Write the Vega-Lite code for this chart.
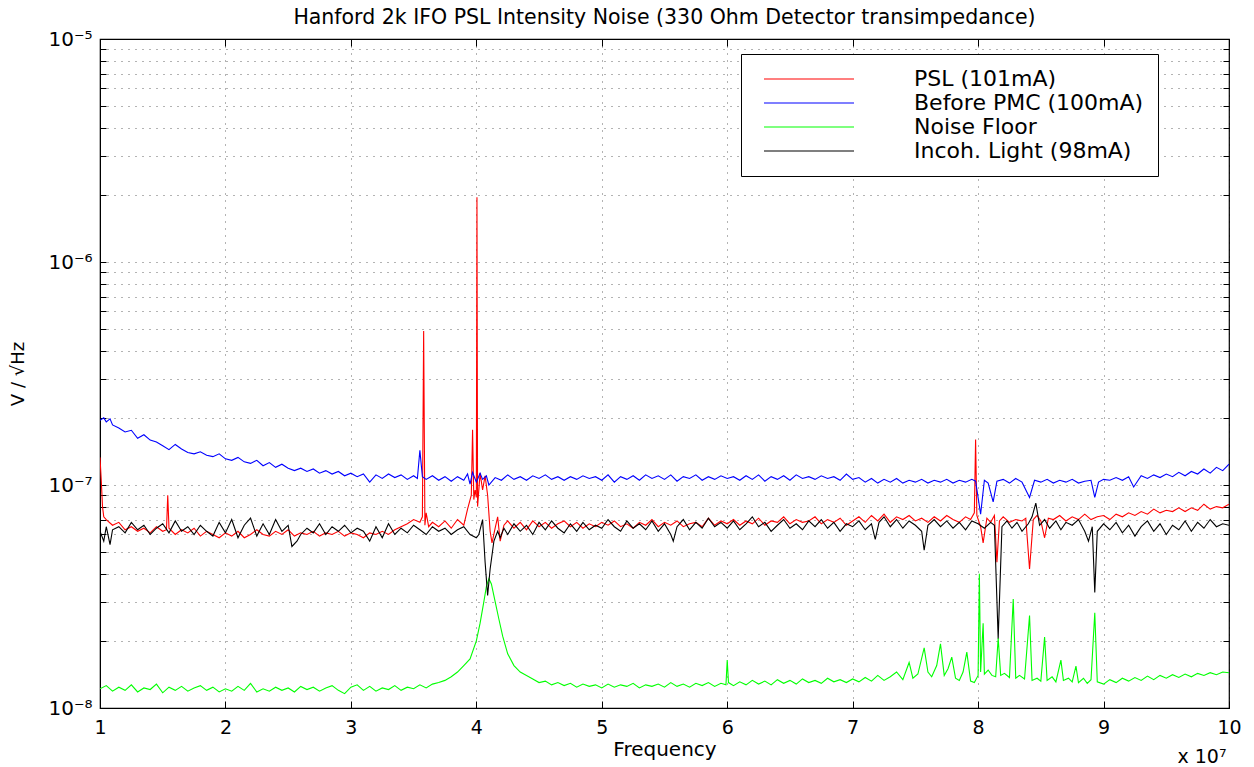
{
"$schema":"https://vega.github.io/schema/vega-lite/v6.json",
"autosize":{"type":"none"},
"width":1129,"height":669,
"padding":{"left":100,"top":39,"right":25,"bottom":59},
"background":"white",
"title":{"text":"Hanford 2k IFO PSL Intensity Noise (330 Ohm Detector transimpedance)","fontSize":20.5,"font":"DejaVu Sans","fontWeight":"normal","anchor":"middle","offset":1,"color":"black"},
"datasets":{
"psl":[{"f":1e7,"v":1.33e-7},{"f":1.01e7,"v":1.05e-7},{"f":1.02e7,"v":8.0e-8},{"f":1.03e7,"v":7.2e-8},{"f":1.05e7,"v":7.0e-8},{"f":1.1e7,"v":6.6e-8},{"f":1.15e7,"v":6.8e-8},{"f":1.2e7,"v":6.3e-8},{"f":1.25e7,"v":6.5e-8},{"f":1.3e7,"v":6.2e-8},{"f":1.35e7,"v":6.4e-8},{"f":1.4e7,"v":6.1e-8},{"f":1.45e7,"v":6.5e-8},{"f":1.5e7,"v":6.2e-8},{"f":1.53e7,"v":6.3e-8},{"f":1.54e7,"v":9.0e-8},{"f":1.55e7,"v":6.4e-8},{"f":1.6e7,"v":6.0e-8},{"f":1.65e7,"v":6.3e-8},{"f":1.7e7,"v":6.1e-8},{"f":1.75e7,"v":6.4e-8},{"f":1.8e7,"v":5.9e-8},{"f":1.85e7,"v":6.2e-8},{"f":1.9e7,"v":6.0e-8},{"f":1.95e7,"v":5.8e-8},{"f":2e7,"v":6.1e-8},{"f":2.05e7,"v":5.9e-8},{"f":2.1e7,"v":6.2e-8},{"f":2.15e7,"v":5.8e-8},{"f":2.2e7,"v":6.0e-8},{"f":2.25e7,"v":6.3e-8},{"f":2.3e7,"v":6.0e-8},{"f":2.35e7,"v":5.9e-8},{"f":2.4e7,"v":6.2e-8},{"f":2.45e7,"v":6.0e-8},{"f":2.5e7,"v":6.3e-8},{"f":2.55e7,"v":5.9e-8},{"f":2.6e7,"v":6.1e-8},{"f":2.65e7,"v":6.0e-8},{"f":2.7e7,"v":6.2e-8},{"f":2.75e7,"v":5.9e-8},{"f":2.8e7,"v":6.1e-8},{"f":2.85e7,"v":6.0e-8},{"f":2.9e7,"v":6.2e-8},{"f":2.95e7,"v":5.9e-8},{"f":3e7,"v":6.1e-8},{"f":3.05e7,"v":6.0e-8},{"f":3.1e7,"v":5.8e-8},{"f":3.15e7,"v":6.1e-8},{"f":3.2e7,"v":6.0e-8},{"f":3.25e7,"v":6.2e-8},{"f":3.3e7,"v":6.0e-8},{"f":3.35e7,"v":6.3e-8},{"f":3.4e7,"v":6.5e-8},{"f":3.45e7,"v":6.7e-8},{"f":3.5e7,"v":7.0e-8},{"f":3.55e7,"v":6.8e-8},{"f":3.57e7,"v":7.2e-8},{"f":3.58e7,"v":4.9e-7},{"f":3.59e7,"v":6.6e-8},{"f":3.6e7,"v":7.5e-8},{"f":3.62e7,"v":6.5e-8},{"f":3.65e7,"v":6.8e-8},{"f":3.7e7,"v":6.5e-8},{"f":3.75e7,"v":6.9e-8},{"f":3.8e7,"v":6.4e-8},{"f":3.85e7,"v":7.0e-8},{"f":3.9e7,"v":6.6e-8},{"f":3.93e7,"v":7.8e-8},{"f":3.96e7,"v":9.0e-8},{"f":3.97e7,"v":1.77e-7},{"f":3.98e7,"v":8.6e-8},{"f":3.99e7,"v":9.5e-8},{"f":4.0e7,"v":8.8e-8},{"f":4.005e7,"v":1.95e-6},{"f":4.01e7,"v":8.0e-8},{"f":4.03e7,"v":1.13e-7},{"f":4.05e7,"v":9.5e-8},{"f":4.07e7,"v":1.1e-7},{"f":4.09e7,"v":9.0e-8},{"f":4.11e7,"v":6.2e-8},{"f":4.125e7,"v":5.5e-8},{"f":4.15e7,"v":6.4e-8},{"f":4.17e7,"v":7.2e-8},{"f":4.19e7,"v":5.6e-8},{"f":4.22e7,"v":6.6e-8},{"f":4.25e7,"v":6.9e-8},{"f":4.3e7,"v":6.4e-8},{"f":4.35e7,"v":6.8e-8},{"f":4.4e7,"v":6.3e-8},{"f":4.45e7,"v":6.9e-8},{"f":4.5e7,"v":6.5e-8},{"f":4.55e7,"v":6.8e-8},{"f":4.6e7,"v":6.4e-8},{"f":4.65e7,"v":6.7e-8},{"f":4.7e7,"v":6.9e-8},{"f":4.75e7,"v":6.5e-8},{"f":4.8e7,"v":6.8e-8},{"f":4.85e7,"v":6.4e-8},{"f":4.9e7,"v":6.7e-8},{"f":4.95e7,"v":6.5e-8},{"f":5e7,"v":6.8e-8},{"f":5.05e7,"v":6.6e-8},{"f":5.1e7,"v":6.9e-8},{"f":5.15e7,"v":6.5e-8},{"f":5.2e7,"v":6.7e-8},{"f":5.25e7,"v":6.4e-8},{"f":5.3e7,"v":6.8e-8},{"f":5.35e7,"v":6.6e-8},{"f":5.4e7,"v":7.0e-8},{"f":5.45e7,"v":6.5e-8},{"f":5.5e7,"v":6.8e-8},{"f":5.55e7,"v":6.6e-8},{"f":5.6e7,"v":6.9e-8},{"f":5.65e7,"v":6.5e-8},{"f":5.7e7,"v":6.7e-8},{"f":5.75e7,"v":6.8e-8},{"f":5.8e7,"v":6.5e-8},{"f":5.85e7,"v":7.1e-8},{"f":5.9e7,"v":6.6e-8},{"f":5.95e7,"v":6.9e-8},{"f":6e7,"v":6.7e-8},{"f":6.05e7,"v":7.0e-8},{"f":6.1e7,"v":6.6e-8},{"f":6.15e7,"v":6.9e-8},{"f":6.2e7,"v":6.7e-8},{"f":6.25e7,"v":7.1e-8},{"f":6.3e7,"v":6.6e-8},{"f":6.35e7,"v":6.9e-8},{"f":6.4e7,"v":6.8e-8},{"f":6.45e7,"v":7.2e-8},{"f":6.5e7,"v":6.7e-8},{"f":6.55e7,"v":7.0e-8},{"f":6.6e7,"v":6.8e-8},{"f":6.65e7,"v":6.9e-8},{"f":6.7e7,"v":7.2e-8},{"f":6.75e7,"v":6.7e-8},{"f":6.8e7,"v":7.0e-8},{"f":6.85e7,"v":6.8e-8},{"f":6.9e7,"v":7.1e-8},{"f":6.95e7,"v":6.6e-8},{"f":7e7,"v":6.9e-8},{"f":7.05e7,"v":7.2e-8},{"f":7.1e7,"v":6.8e-8},{"f":7.15e7,"v":7.3e-8},{"f":7.2e7,"v":6.9e-8},{"f":7.25e7,"v":7.4e-8},{"f":7.3e7,"v":6.8e-8},{"f":7.35e7,"v":7.2e-8},{"f":7.4e7,"v":7.0e-8},{"f":7.45e7,"v":7.3e-8},{"f":7.5e7,"v":6.9e-8},{"f":7.55e7,"v":7.1e-8},{"f":7.6e7,"v":6.8e-8},{"f":7.65e7,"v":7.2e-8},{"f":7.7e7,"v":6.9e-8},{"f":7.75e7,"v":7.3e-8},{"f":7.8e7,"v":7.0e-8},{"f":7.85e7,"v":6.8e-8},{"f":7.9e7,"v":7.2e-8},{"f":7.94e7,"v":7.0e-8},{"f":7.97e7,"v":7.5e-8},{"f":7.98e7,"v":1.6e-7},{"f":7.99e7,"v":7.3e-8},{"f":8.02e7,"v":6.5e-8},{"f":8.04e7,"v":5.5e-8},{"f":8.07e7,"v":7.1e-8},{"f":8.1e7,"v":6.8e-8},{"f":8.13e7,"v":7.3e-8},{"f":8.15e7,"v":4.5e-8},{"f":8.17e7,"v":6.9e-8},{"f":8.2e7,"v":7.2e-8},{"f":8.25e7,"v":6.8e-8},{"f":8.3e7,"v":7.0e-8},{"f":8.35e7,"v":6.9e-8},{"f":8.38e7,"v":7.1e-8},{"f":8.41e7,"v":4.2e-8},{"f":8.44e7,"v":7.0e-8},{"f":8.47e7,"v":7.3e-8},{"f":8.5e7,"v":6.9e-8},{"f":8.53e7,"v":5.8e-8},{"f":8.56e7,"v":7.1e-8},{"f":8.6e7,"v":7.0e-8},{"f":8.65e7,"v":7.3e-8},{"f":8.7e7,"v":6.9e-8},{"f":8.75e7,"v":7.2e-8},{"f":8.8e7,"v":7.0e-8},{"f":8.85e7,"v":7.4e-8},{"f":8.9e7,"v":7.0e-8},{"f":8.95e7,"v":7.2e-8},{"f":9e7,"v":7.3e-8},{"f":9.05e7,"v":7.0e-8},{"f":9.1e7,"v":7.4e-8},{"f":9.15e7,"v":7.2e-8},{"f":9.2e7,"v":7.5e-8},{"f":9.25e7,"v":7.3e-8},{"f":9.3e7,"v":7.6e-8},{"f":9.35e7,"v":7.4e-8},{"f":9.4e7,"v":7.8e-8},{"f":9.45e7,"v":7.5e-8},{"f":9.5e7,"v":7.7e-8},{"f":9.55e7,"v":7.6e-8},{"f":9.6e7,"v":7.9e-8},{"f":9.65e7,"v":7.6e-8},{"f":9.7e7,"v":7.9e-8},{"f":9.75e7,"v":7.7e-8},{"f":9.8e7,"v":8.2e-8},{"f":9.85e7,"v":7.8e-8},{"f":9.9e7,"v":8.0e-8},{"f":9.95e7,"v":7.9e-8},{"f":1e8,"v":8.2e-8}],
"pmc":[{"f":1e7,"v":1.95e-7},{"f":1.03e7,"v":2.0e-7},{"f":1.05e7,"v":1.92e-7},{"f":1.08e7,"v":1.98e-7},{"f":1.1e7,"v":1.86e-7},{"f":1.15e7,"v":1.8e-7},{"f":1.2e7,"v":1.73e-7},{"f":1.25e7,"v":1.76e-7},{"f":1.3e7,"v":1.62e-7},{"f":1.35e7,"v":1.68e-7},{"f":1.4e7,"v":1.59e-7},{"f":1.45e7,"v":1.56e-7},{"f":1.5e7,"v":1.5e-7},{"f":1.55e7,"v":1.44e-7},{"f":1.6e7,"v":1.52e-7},{"f":1.65e7,"v":1.45e-7},{"f":1.7e7,"v":1.4e-7},{"f":1.75e7,"v":1.38e-7},{"f":1.8e7,"v":1.41e-7},{"f":1.85e7,"v":1.36e-7},{"f":1.9e7,"v":1.34e-7},{"f":1.95e7,"v":1.38e-7},{"f":2e7,"v":1.31e-7},{"f":2.05e7,"v":1.29e-7},{"f":2.1e7,"v":1.33e-7},{"f":2.15e7,"v":1.27e-7},{"f":2.2e7,"v":1.25e-7},{"f":2.25e7,"v":1.29e-7},{"f":2.3e7,"v":1.22e-7},{"f":2.35e7,"v":1.26e-7},{"f":2.4e7,"v":1.2e-7},{"f":2.45e7,"v":1.24e-7},{"f":2.5e7,"v":1.19e-7},{"f":2.55e7,"v":1.16e-7},{"f":2.6e7,"v":1.19e-7},{"f":2.65e7,"v":1.15e-7},{"f":2.7e7,"v":1.18e-7},{"f":2.75e7,"v":1.13e-7},{"f":2.8e7,"v":1.16e-7},{"f":2.85e7,"v":1.12e-7},{"f":2.9e7,"v":1.15e-7},{"f":2.95e7,"v":1.1e-7},{"f":3e7,"v":1.13e-7},{"f":3.05e7,"v":1.09e-7},{"f":3.1e7,"v":1.12e-7},{"f":3.15e7,"v":1.03e-7},{"f":3.2e7,"v":1.11e-7},{"f":3.25e7,"v":1.07e-7},{"f":3.3e7,"v":1.12e-7},{"f":3.35e7,"v":1.08e-7},{"f":3.4e7,"v":1.11e-7},{"f":3.45e7,"v":1.06e-7},{"f":3.5e7,"v":1.1e-7},{"f":3.53e7,"v":1.07e-7},{"f":3.55e7,"v":1.43e-7},{"f":3.57e7,"v":1.09e-7},{"f":3.6e7,"v":1.06e-7},{"f":3.65e7,"v":1.1e-7},{"f":3.7e7,"v":1.05e-7},{"f":3.75e7,"v":1.09e-7},{"f":3.8e7,"v":1.04e-7},{"f":3.85e7,"v":1.09e-7},{"f":3.9e7,"v":1.05e-7},{"f":3.93e7,"v":1.12e-7},{"f":3.95e7,"v":1.01e-7},{"f":3.97e7,"v":1.14e-7},{"f":4e7,"v":1.03e-7},{"f":4.03e7,"v":1.13e-7},{"f":4.05e7,"v":1.06e-7},{"f":4.08e7,"v":1.1e-7},{"f":4.1e7,"v":1.0e-7},{"f":4.15e7,"v":1.08e-7},{"f":4.2e7,"v":1.05e-7},{"f":4.25e7,"v":1.11e-7},{"f":4.3e7,"v":1.06e-7},{"f":4.35e7,"v":1.09e-7},{"f":4.4e7,"v":1.05e-7},{"f":4.45e7,"v":1.1e-7},{"f":4.5e7,"v":1.07e-7},{"f":4.55e7,"v":1.11e-7},{"f":4.6e7,"v":1.06e-7},{"f":4.65e7,"v":1.09e-7},{"f":4.7e7,"v":1.05e-7},{"f":4.75e7,"v":1.09e-7},{"f":4.8e7,"v":1.06e-7},{"f":4.85e7,"v":1.1e-7},{"f":4.9e7,"v":1.07e-7},{"f":4.95e7,"v":1.09e-7},{"f":5e7,"v":1.05e-7},{"f":5.05e7,"v":1.11e-7},{"f":5.1e7,"v":1.03e-7},{"f":5.15e7,"v":1.09e-7},{"f":5.2e7,"v":1.06e-7},{"f":5.25e7,"v":1.1e-7},{"f":5.3e7,"v":1.05e-7},{"f":5.35e7,"v":1.11e-7},{"f":5.4e7,"v":1.07e-7},{"f":5.45e7,"v":1.1e-7},{"f":5.5e7,"v":1.06e-7},{"f":5.55e7,"v":1.11e-7},{"f":5.6e7,"v":1.04e-7},{"f":5.65e7,"v":1.09e-7},{"f":5.7e7,"v":1.07e-7},{"f":5.75e7,"v":1.11e-7},{"f":5.8e7,"v":1.05e-7},{"f":5.85e7,"v":1.09e-7},{"f":5.9e7,"v":1.06e-7},{"f":5.95e7,"v":1.1e-7},{"f":6e7,"v":1.07e-7},{"f":6.05e7,"v":1.09e-7},{"f":6.1e7,"v":1.05e-7},{"f":6.15e7,"v":1.1e-7},{"f":6.2e7,"v":1.06e-7},{"f":6.25e7,"v":1.11e-7},{"f":6.3e7,"v":1.04e-7},{"f":6.35e7,"v":1.09e-7},{"f":6.4e7,"v":1.06e-7},{"f":6.45e7,"v":1.1e-7},{"f":6.5e7,"v":1.05e-7},{"f":6.55e7,"v":1.11e-7},{"f":6.6e7,"v":1.07e-7},{"f":6.65e7,"v":1.09e-7},{"f":6.7e7,"v":1.06e-7},{"f":6.75e7,"v":1.1e-7},{"f":6.8e7,"v":1.07e-7},{"f":6.85e7,"v":1.09e-7},{"f":6.9e7,"v":1.05e-7},{"f":6.95e7,"v":1.12e-7},{"f":7e7,"v":1.06e-7},{"f":7.05e7,"v":1.08e-7},{"f":7.1e7,"v":1.03e-7},{"f":7.15e7,"v":1.07e-7},{"f":7.2e7,"v":1.02e-7},{"f":7.25e7,"v":1.06e-7},{"f":7.3e7,"v":1.03e-7},{"f":7.35e7,"v":1.07e-7},{"f":7.4e7,"v":1.02e-7},{"f":7.45e7,"v":1.05e-7},{"f":7.5e7,"v":1.03e-7},{"f":7.55e7,"v":1.06e-7},{"f":7.6e7,"v":1.02e-7},{"f":7.65e7,"v":1.05e-7},{"f":7.7e7,"v":1.03e-7},{"f":7.75e7,"v":1.06e-7},{"f":7.8e7,"v":1.02e-7},{"f":7.85e7,"v":1.05e-7},{"f":7.9e7,"v":1.03e-7},{"f":7.95e7,"v":1.06e-7},{"f":7.98e7,"v":1.04e-7},{"f":8.02e7,"v":7.4e-8},{"f":8.05e7,"v":1.05e-7},{"f":8.08e7,"v":1.02e-7},{"f":8.12e7,"v":8.4e-8},{"f":8.15e7,"v":1.04e-7},{"f":8.2e7,"v":1.06e-7},{"f":8.25e7,"v":1.02e-7},{"f":8.3e7,"v":1.07e-7},{"f":8.35e7,"v":1.03e-7},{"f":8.41e7,"v":8.8e-8},{"f":8.45e7,"v":1.05e-7},{"f":8.5e7,"v":1.03e-7},{"f":8.55e7,"v":1.06e-7},{"f":8.6e7,"v":1.02e-7},{"f":8.65e7,"v":1.05e-7},{"f":8.7e7,"v":1.03e-7},{"f":8.75e7,"v":1.06e-7},{"f":8.8e7,"v":1.02e-7},{"f":8.85e7,"v":1.04e-7},{"f":8.9e7,"v":1.05e-7},{"f":8.93e7,"v":8.8e-8},{"f":8.96e7,"v":1.03e-7},{"f":9e7,"v":1.06e-7},{"f":9.05e7,"v":1.05e-7},{"f":9.1e7,"v":1.08e-7},{"f":9.15e7,"v":1.05e-7},{"f":9.2e7,"v":1.09e-7},{"f":9.24e7,"v":9.8e-8},{"f":9.3e7,"v":1.1e-7},{"f":9.35e7,"v":1.07e-7},{"f":9.4e7,"v":1.11e-7},{"f":9.45e7,"v":1.08e-7},{"f":9.5e7,"v":1.12e-7},{"f":9.55e7,"v":1.09e-7},{"f":9.6e7,"v":1.14e-7},{"f":9.65e7,"v":1.1e-7},{"f":9.7e7,"v":1.15e-7},{"f":9.75e7,"v":1.12e-7},{"f":9.8e7,"v":1.18e-7},{"f":9.85e7,"v":1.13e-7},{"f":9.9e7,"v":1.2e-7},{"f":9.95e7,"v":1.16e-7},{"f":1e8,"v":1.24e-7}],
"nf":[{"f":1e7,"v":1.22e-8},{"f":1.05e7,"v":1.26e-8},{"f":1.1e7,"v":1.19e-8},{"f":1.15e7,"v":1.24e-8},{"f":1.2e7,"v":1.2e-8},{"f":1.25e7,"v":1.27e-8},{"f":1.3e7,"v":1.18e-8},{"f":1.35e7,"v":1.23e-8},{"f":1.4e7,"v":1.21e-8},{"f":1.45e7,"v":1.28e-8},{"f":1.5e7,"v":1.17e-8},{"f":1.55e7,"v":1.24e-8},{"f":1.6e7,"v":1.2e-8},{"f":1.65e7,"v":1.25e-8},{"f":1.7e7,"v":1.19e-8},{"f":1.75e7,"v":1.23e-8},{"f":1.8e7,"v":1.26e-8},{"f":1.85e7,"v":1.2e-8},{"f":1.9e7,"v":1.24e-8},{"f":1.95e7,"v":1.18e-8},{"f":2e7,"v":1.22e-8},{"f":2.05e7,"v":1.19e-8},{"f":2.1e7,"v":1.25e-8},{"f":2.15e7,"v":1.2e-8},{"f":2.2e7,"v":1.29e-8},{"f":2.25e7,"v":1.18e-8},{"f":2.3e7,"v":1.22e-8},{"f":2.35e7,"v":1.19e-8},{"f":2.4e7,"v":1.24e-8},{"f":2.45e7,"v":1.2e-8},{"f":2.5e7,"v":1.23e-8},{"f":2.55e7,"v":1.18e-8},{"f":2.6e7,"v":1.25e-8},{"f":2.65e7,"v":1.21e-8},{"f":2.7e7,"v":1.24e-8},{"f":2.75e7,"v":1.19e-8},{"f":2.8e7,"v":1.23e-8},{"f":2.85e7,"v":1.26e-8},{"f":2.9e7,"v":1.2e-8},{"f":2.95e7,"v":1.16e-8},{"f":3e7,"v":1.24e-8},{"f":3.05e7,"v":1.27e-8},{"f":3.1e7,"v":1.2e-8},{"f":3.15e7,"v":1.25e-8},{"f":3.2e7,"v":1.19e-8},{"f":3.25e7,"v":1.23e-8},{"f":3.3e7,"v":1.21e-8},{"f":3.35e7,"v":1.26e-8},{"f":3.4e7,"v":1.2e-8},{"f":3.45e7,"v":1.24e-8},{"f":3.5e7,"v":1.22e-8},{"f":3.55e7,"v":1.27e-8},{"f":3.6e7,"v":1.23e-8},{"f":3.65e7,"v":1.28e-8},{"f":3.7e7,"v":1.3e-8},{"f":3.75e7,"v":1.33e-8},{"f":3.8e7,"v":1.38e-8},{"f":3.85e7,"v":1.45e-8},{"f":3.9e7,"v":1.55e-8},{"f":3.95e7,"v":1.66e-8},{"f":4e7,"v":2.0e-8},{"f":4.03e7,"v":2.4e-8},{"f":4.06e7,"v":3.0e-8},{"f":4.08e7,"v":3.5e-8},{"f":4.1e7,"v":3.8e-8},{"f":4.12e7,"v":3.6e-8},{"f":4.15e7,"v":3.0e-8},{"f":4.18e7,"v":2.5e-8},{"f":4.21e7,"v":2.1e-8},{"f":4.25e7,"v":1.75e-8},{"f":4.3e7,"v":1.55e-8},{"f":4.35e7,"v":1.45e-8},{"f":4.4e7,"v":1.4e-8},{"f":4.45e7,"v":1.35e-8},{"f":4.5e7,"v":1.3e-8},{"f":4.55e7,"v":1.32e-8},{"f":4.6e7,"v":1.27e-8},{"f":4.65e7,"v":1.3e-8},{"f":4.7e7,"v":1.26e-8},{"f":4.75e7,"v":1.29e-8},{"f":4.8e7,"v":1.24e-8},{"f":4.85e7,"v":1.28e-8},{"f":4.9e7,"v":1.25e-8},{"f":4.95e7,"v":1.27e-8},{"f":5e7,"v":1.23e-8},{"f":5.05e7,"v":1.28e-8},{"f":5.1e7,"v":1.24e-8},{"f":5.15e7,"v":1.27e-8},{"f":5.2e7,"v":1.25e-8},{"f":5.25e7,"v":1.29e-8},{"f":5.3e7,"v":1.23e-8},{"f":5.35e7,"v":1.27e-8},{"f":5.4e7,"v":1.25e-8},{"f":5.45e7,"v":1.28e-8},{"f":5.5e7,"v":1.24e-8},{"f":5.55e7,"v":1.3e-8},{"f":5.6e7,"v":1.25e-8},{"f":5.65e7,"v":1.28e-8},{"f":5.7e7,"v":1.24e-8},{"f":5.75e7,"v":1.29e-8},{"f":5.8e7,"v":1.26e-8},{"f":5.85e7,"v":1.3e-8},{"f":5.9e7,"v":1.25e-8},{"f":5.95e7,"v":1.29e-8},{"f":5.99e7,"v":1.27e-8},{"f":6e7,"v":1.64e-8},{"f":6.01e7,"v":1.3e-8},{"f":6.05e7,"v":1.26e-8},{"f":6.1e7,"v":1.31e-8},{"f":6.15e7,"v":1.27e-8},{"f":6.2e7,"v":1.33e-8},{"f":6.25e7,"v":1.28e-8},{"f":6.3e7,"v":1.32e-8},{"f":6.35e7,"v":1.27e-8},{"f":6.4e7,"v":1.34e-8},{"f":6.45e7,"v":1.29e-8},{"f":6.5e7,"v":1.33e-8},{"f":6.55e7,"v":1.28e-8},{"f":6.6e7,"v":1.35e-8},{"f":6.65e7,"v":1.3e-8},{"f":6.7e7,"v":1.33e-8},{"f":6.75e7,"v":1.29e-8},{"f":6.8e7,"v":1.36e-8},{"f":6.85e7,"v":1.31e-8},{"f":6.9e7,"v":1.34e-8},{"f":6.95e7,"v":1.3e-8},{"f":7e7,"v":1.35e-8},{"f":7.05e7,"v":1.31e-8},{"f":7.1e7,"v":1.37e-8},{"f":7.15e7,"v":1.32e-8},{"f":7.2e7,"v":1.4e-8},{"f":7.25e7,"v":1.33e-8},{"f":7.3e7,"v":1.38e-8},{"f":7.35e7,"v":1.45e-8},{"f":7.4e7,"v":1.34e-8},{"f":7.45e7,"v":1.6e-8},{"f":7.48e7,"v":1.36e-8},{"f":7.52e7,"v":1.42e-8},{"f":7.57e7,"v":1.86e-8},{"f":7.6e7,"v":1.45e-8},{"f":7.63e7,"v":1.38e-8},{"f":7.67e7,"v":1.55e-8},{"f":7.7e7,"v":1.94e-8},{"f":7.73e7,"v":1.4e-8},{"f":7.76e7,"v":1.5e-8},{"f":7.79e7,"v":1.69e-8},{"f":7.82e7,"v":1.36e-8},{"f":7.85e7,"v":1.33e-8},{"f":7.88e7,"v":1.45e-8},{"f":7.91e7,"v":1.78e-8},{"f":7.94e7,"v":1.32e-8},{"f":7.97e7,"v":1.3e-8},{"f":8e7,"v":1.4e-8},{"f":8.01e7,"v":4.0e-8},{"f":8.02e7,"v":1.45e-8},{"f":8.04e7,"v":2.4e-8},{"f":8.05e7,"v":1.42e-8},{"f":8.08e7,"v":1.48e-8},{"f":8.11e7,"v":1.4e-8},{"f":8.14e7,"v":1.38e-8},{"f":8.16e7,"v":2.06e-8},{"f":8.18e7,"v":1.4e-8},{"f":8.21e7,"v":1.43e-8},{"f":8.25e7,"v":1.37e-8},{"f":8.28e7,"v":3.08e-8},{"f":8.3e7,"v":1.36e-8},{"f":8.33e7,"v":1.4e-8},{"f":8.37e7,"v":1.35e-8},{"f":8.41e7,"v":2.6e-8},{"f":8.43e7,"v":1.33e-8},{"f":8.47e7,"v":1.36e-8},{"f":8.5e7,"v":1.32e-8},{"f":8.53e7,"v":2.08e-8},{"f":8.55e7,"v":1.33e-8},{"f":8.59e7,"v":1.38e-8},{"f":8.62e7,"v":1.31e-8},{"f":8.66e7,"v":1.64e-8},{"f":8.68e7,"v":1.33e-8},{"f":8.72e7,"v":1.36e-8},{"f":8.75e7,"v":1.31e-8},{"f":8.78e7,"v":1.54e-8},{"f":8.8e7,"v":1.3e-8},{"f":8.84e7,"v":1.36e-8},{"f":8.87e7,"v":1.29e-8},{"f":8.9e7,"v":1.34e-8},{"f":8.93e7,"v":2.67e-8},{"f":8.95e7,"v":1.31e-8},{"f":9e7,"v":1.28e-8},{"f":9.05e7,"v":1.34e-8},{"f":9.1e7,"v":1.3e-8},{"f":9.15e7,"v":1.36e-8},{"f":9.2e7,"v":1.32e-8},{"f":9.25e7,"v":1.37e-8},{"f":9.3e7,"v":1.33e-8},{"f":9.35e7,"v":1.39e-8},{"f":9.4e7,"v":1.34e-8},{"f":9.45e7,"v":1.4e-8},{"f":9.5e7,"v":1.36e-8},{"f":9.55e7,"v":1.41e-8},{"f":9.6e7,"v":1.37e-8},{"f":9.65e7,"v":1.42e-8},{"f":9.7e7,"v":1.38e-8},{"f":9.75e7,"v":1.43e-8},{"f":9.8e7,"v":1.4e-8},{"f":9.85e7,"v":1.44e-8},{"f":9.9e7,"v":1.41e-8},{"f":9.95e7,"v":1.45e-8},{"f":1e8,"v":1.44e-8}],
"inc":[{"f":1e7,"v":6.2e-8},{"f":1.03e7,"v":5.6e-8},{"f":1.05e7,"v":6.5e-8},{"f":1.08e7,"v":5.4e-8},{"f":1.1e7,"v":6.3e-8},{"f":1.15e7,"v":6.5e-8},{"f":1.2e7,"v":6.1e-8},{"f":1.25e7,"v":6.8e-8},{"f":1.3e7,"v":6.3e-8},{"f":1.35e7,"v":6.6e-8},{"f":1.4e7,"v":6.0e-8},{"f":1.45e7,"v":6.4e-8},{"f":1.5e7,"v":6.7e-8},{"f":1.55e7,"v":6.1e-8},{"f":1.6e7,"v":6.9e-8},{"f":1.65e7,"v":6.2e-8},{"f":1.7e7,"v":6.5e-8},{"f":1.75e7,"v":6.0e-8},{"f":1.8e7,"v":6.6e-8},{"f":1.85e7,"v":6.2e-8},{"f":1.9e7,"v":5.9e-8},{"f":1.95e7,"v":6.8e-8},{"f":2e7,"v":6.1e-8},{"f":2.05e7,"v":7.0e-8},{"f":2.1e7,"v":5.8e-8},{"f":2.15e7,"v":6.6e-8},{"f":2.2e7,"v":7.1e-8},{"f":2.25e7,"v":5.9e-8},{"f":2.3e7,"v":6.7e-8},{"f":2.35e7,"v":6.0e-8},{"f":2.4e7,"v":7.0e-8},{"f":2.45e7,"v":6.2e-8},{"f":2.5e7,"v":6.6e-8},{"f":2.53e7,"v":5.3e-8},{"f":2.57e7,"v":5.6e-8},{"f":2.6e7,"v":6.0e-8},{"f":2.65e7,"v":6.4e-8},{"f":2.7e7,"v":6.1e-8},{"f":2.75e7,"v":6.7e-8},{"f":2.8e7,"v":6.0e-8},{"f":2.85e7,"v":6.5e-8},{"f":2.9e7,"v":6.2e-8},{"f":2.95e7,"v":6.6e-8},{"f":3e7,"v":6.1e-8},{"f":3.05e7,"v":6.4e-8},{"f":3.1e7,"v":6.2e-8},{"f":3.15e7,"v":5.6e-8},{"f":3.2e7,"v":6.5e-8},{"f":3.25e7,"v":5.8e-8},{"f":3.3e7,"v":6.7e-8},{"f":3.35e7,"v":6.0e-8},{"f":3.4e7,"v":6.4e-8},{"f":3.45e7,"v":6.1e-8},{"f":3.5e7,"v":6.6e-8},{"f":3.55e7,"v":6.3e-8},{"f":3.6e7,"v":6.0e-8},{"f":3.65e7,"v":6.5e-8},{"f":3.7e7,"v":6.2e-8},{"f":3.75e7,"v":6.4e-8},{"f":3.8e7,"v":6.0e-8},{"f":3.85e7,"v":6.3e-8},{"f":3.9e7,"v":6.5e-8},{"f":3.95e7,"v":6.0e-8},{"f":4e7,"v":5.8e-8},{"f":4.02e7,"v":6.0e-8},{"f":4.05e7,"v":7.0e-8},{"f":4.07e7,"v":4.5e-8},{"f":4.09e7,"v":3.2e-8},{"f":4.11e7,"v":4.2e-8},{"f":4.14e7,"v":5.6e-8},{"f":4.17e7,"v":6.2e-8},{"f":4.19e7,"v":5.8e-8},{"f":4.22e7,"v":6.4e-8},{"f":4.25e7,"v":6.0e-8},{"f":4.3e7,"v":6.7e-8},{"f":4.35e7,"v":6.2e-8},{"f":4.4e7,"v":6.6e-8},{"f":4.45e7,"v":6.0e-8},{"f":4.5e7,"v":6.8e-8},{"f":4.55e7,"v":6.3e-8},{"f":4.6e7,"v":6.9e-8},{"f":4.65e7,"v":6.4e-8},{"f":4.7e7,"v":6.1e-8},{"f":4.75e7,"v":6.7e-8},{"f":4.8e7,"v":6.2e-8},{"f":4.85e7,"v":6.8e-8},{"f":4.9e7,"v":6.3e-8},{"f":4.95e7,"v":6.6e-8},{"f":5e7,"v":6.4e-8},{"f":5.05e7,"v":7.0e-8},{"f":5.1e7,"v":6.5e-8},{"f":5.15e7,"v":6.2e-8},{"f":5.2e7,"v":6.9e-8},{"f":5.25e7,"v":6.4e-8},{"f":5.3e7,"v":6.7e-8},{"f":5.35e7,"v":6.3e-8},{"f":5.4e7,"v":6.9e-8},{"f":5.45e7,"v":6.2e-8},{"f":5.5e7,"v":6.7e-8},{"f":5.55e7,"v":6.0e-8},{"f":5.57e7,"v":5.6e-8},{"f":5.6e7,"v":6.5e-8},{"f":5.65e7,"v":7.0e-8},{"f":5.7e7,"v":6.3e-8},{"f":5.75e7,"v":6.8e-8},{"f":5.8e7,"v":6.4e-8},{"f":5.85e7,"v":7.1e-8},{"f":5.9e7,"v":6.5e-8},{"f":5.95e7,"v":6.8e-8},{"f":6e7,"v":6.4e-8},{"f":6.05e7,"v":6.9e-8},{"f":6.1e7,"v":6.3e-8},{"f":6.15e7,"v":6.7e-8},{"f":6.2e7,"v":7.2e-8},{"f":6.25e7,"v":6.5e-8},{"f":6.3e7,"v":6.8e-8},{"f":6.35e7,"v":6.2e-8},{"f":6.4e7,"v":6.6e-8},{"f":6.45e7,"v":7.0e-8},{"f":6.5e7,"v":6.4e-8},{"f":6.55e7,"v":6.7e-8},{"f":6.6e7,"v":6.3e-8},{"f":6.65e7,"v":6.9e-8},{"f":6.7e7,"v":6.5e-8},{"f":6.75e7,"v":7.0e-8},{"f":6.8e7,"v":6.4e-8},{"f":6.85e7,"v":6.8e-8},{"f":6.9e7,"v":6.2e-8},{"f":6.95e7,"v":6.7e-8},{"f":7e7,"v":6.5e-8},{"f":7.05e7,"v":6.9e-8},{"f":7.1e7,"v":6.3e-8},{"f":7.15e7,"v":6.7e-8},{"f":7.18e7,"v":5.7e-8},{"f":7.21e7,"v":6.8e-8},{"f":7.25e7,"v":7.2e-8},{"f":7.3e7,"v":6.5e-8},{"f":7.35e7,"v":7.0e-8},{"f":7.4e7,"v":6.4e-8},{"f":7.45e7,"v":6.9e-8},{"f":7.5e7,"v":6.6e-8},{"f":7.55e7,"v":6.2e-8},{"f":7.57e7,"v":5.1e-8},{"f":7.6e7,"v":6.6e-8},{"f":7.65e7,"v":7.0e-8},{"f":7.7e7,"v":6.5e-8},{"f":7.75e7,"v":6.9e-8},{"f":7.8e7,"v":6.4e-8},{"f":7.85e7,"v":6.8e-8},{"f":7.9e7,"v":6.3e-8},{"f":7.95e7,"v":6.9e-8},{"f":8e7,"v":6.7e-8},{"f":8.05e7,"v":6.4e-8},{"f":8.1e7,"v":6.8e-8},{"f":8.13e7,"v":6.6e-8},{"f":8.16e7,"v":2.05e-8},{"f":8.19e7,"v":6.5e-8},{"f":8.23e7,"v":6.9e-8},{"f":8.27e7,"v":6.4e-8},{"f":8.31e7,"v":6.8e-8},{"f":8.35e7,"v":6.2e-8},{"f":8.4e7,"v":6.7e-8},{"f":8.43e7,"v":7.2e-8},{"f":8.46e7,"v":8.3e-8},{"f":8.49e7,"v":6.6e-8},{"f":8.53e7,"v":7.0e-8},{"f":8.57e7,"v":6.4e-8},{"f":8.62e7,"v":6.9e-8},{"f":8.66e7,"v":6.3e-8},{"f":8.7e7,"v":6.8e-8},{"f":8.75e7,"v":6.6e-8},{"f":8.8e7,"v":7.0e-8},{"f":8.85e7,"v":6.2e-8},{"f":8.88e7,"v":5.6e-8},{"f":8.91e7,"v":6.5e-8},{"f":8.93e7,"v":3.3e-8},{"f":8.95e7,"v":6.2e-8},{"f":9e7,"v":6.7e-8},{"f":9.05e7,"v":6.3e-8},{"f":9.1e7,"v":6.8e-8},{"f":9.15e7,"v":6.1e-8},{"f":9.2e7,"v":6.6e-8},{"f":9.25e7,"v":5.9e-8},{"f":9.3e7,"v":6.5e-8},{"f":9.35e7,"v":6.9e-8},{"f":9.4e7,"v":6.2e-8},{"f":9.45e7,"v":6.7e-8},{"f":9.5e7,"v":6.0e-8},{"f":9.55e7,"v":6.6e-8},{"f":9.6e7,"v":6.3e-8},{"f":9.65e7,"v":6.9e-8},{"f":9.7e7,"v":6.2e-8},{"f":9.75e7,"v":6.8e-8},{"f":9.8e7,"v":6.4e-8},{"f":9.85e7,"v":7.0e-8},{"f":9.9e7,"v":6.5e-8},{"f":9.95e7,"v":6.7e-8},{"f":1e8,"v":6.6e-8}],
"note":[{"t":"x 10⁷","f":1e8,"v":1e-8}]
},
"layer":[
{"data":{"name":"psl"},"mark":{"type":"line","strokeWidth":1.1,"clip":true},
 "encoding":{
  "x":{"field":"f","type":"quantitative","scale":{"domain":[1e7,1e8],"nice":false,"zero":false},
   "axis":{"orient":"bottom","values":[1e7,2e7,3e7,4e7,5e7,6e7,7e7,8e7,9e7,1e8],"labelExpr":"format(datum.value/1e7,'d')","labelFlush":false,"title":"Frequency","titleFontSize":20,"tickSize":-7,"labelPadding":17,"titlePadding":2,"grid":true,"labelFontSize":19}},
  "y":{"field":"v","type":"quantitative","scale":{"type":"log","domain":[1e-8,1e-5],"nice":false},
   "axis":{"orient":"left","values":[1e-8,2e-8,3e-8,4e-8,5e-8,6e-8,7e-8,8e-8,9e-8,1e-7,2e-7,3e-7,4e-7,5e-7,6e-7,7e-7,8e-7,9e-7,1e-6,2e-6,3e-6,4e-6,5e-6,6e-6,7e-6,8e-6,9e-6,1e-5],"labelExpr":"datum.value == 1e-5 ? '10⁻⁵' : datum.value == 1e-6 ? '10⁻⁶' : datum.value == 1e-7 ? '10⁻⁷' : datum.value == 1e-8 ? '10⁻⁸' : ''","labelOverlap":false,"labelFlush":false,"title":"V / √Hz","titleFontSize":18,"titlePadding":20,"tickSize":-6,"labelPadding":14,"grid":true,"labelFontSize":20}},
  "color":{"datum":"PSL (101mA)","type":"nominal","scale":{"domain":["PSL (101mA)","Before PMC (100mA)","Noise Floor","Incoh. Light (98mA)"],"range":["#ff0000","#0000ff","#00ff00","#000000"]},
   "legend":{"orient":"none","legendX":641,"legendY":15,"title":null,"symbolType":"M-0.2,0H8.8","symbolSize":400,"symbolStrokeWidth":1.2,"labelOffset":137,"labelFontSize":22,"labelFont":"DejaVu Sans","labelColor":"black","labelLimit":500,"strokeColor":"black","fillColor":"white","padding":14,"rowPadding":2,"symbolOpacity":1}}
 }},
{"data":{"name":"pmc"},"mark":{"type":"line","strokeWidth":1.1,"clip":true},
 "encoding":{
  "x":{"field":"f","type":"quantitative","axis":{"orient":"top","values":[1e7,2e7,3e7,4e7,5e7,6e7,7e7,8e7,9e7,1e8],"labels":false,"grid":false,"tickSize":-7,"title":null,"domain":false}},
  "y":{"field":"v","type":"quantitative","axis":{"orient":"right","values":[1e-8,2e-8,3e-8,4e-8,5e-8,6e-8,7e-8,8e-8,9e-8,1e-7,2e-7,3e-7,4e-7,5e-7,6e-7,7e-7,8e-7,9e-7,1e-6,2e-6,3e-6,4e-6,5e-6,6e-6,7e-6,8e-6,9e-6,1e-5],"labels":false,"grid":false,"tickSize":-6,"title":null,"domain":false}},
  "color":{"datum":"Before PMC (100mA)","type":"nominal"}
 }},
{"data":{"name":"nf"},"mark":{"type":"line","strokeWidth":1.1,"clip":true},
 "encoding":{
  "x":{"field":"f","type":"quantitative","axis":null},
  "y":{"field":"v","type":"quantitative","axis":null},
  "color":{"datum":"Noise Floor","type":"nominal"}
 }},
{"data":{"name":"inc"},"mark":{"type":"line","strokeWidth":1.1,"clip":true},
 "encoding":{
  "x":{"field":"f","type":"quantitative","axis":null},
  "y":{"field":"v","type":"quantitative","axis":null},
  "color":{"datum":"Incoh. Light (98mA)","type":"nominal"}
 }},
{"data":{"name":"note"},"mark":{"type":"text","font":"DejaVu Sans","fontSize":19,"color":"black","align":"center","baseline":"alphabetic","dx":-27,"dy":55},
 "encoding":{
  "x":{"field":"f","type":"quantitative","axis":null},
  "y":{"field":"v","type":"quantitative","axis":null},
  "text":{"field":"t"}
 }}
],
"resolve":{"axis":{"x":"independent","y":"independent"}},
"config":{
 "font":"DejaVu Sans",
 "view":{"stroke":"black","strokeWidth":1.2},
 "axis":{"domainColor":"black","tickColor":"black","labelColor":"black","titleColor":"black","labelFont":"DejaVu Sans","titleFont":"DejaVu Sans","titleFontWeight":"normal","gridColor":"#000000","gridDash":[1,6],"gridOpacity":0.6,"gridWidth":1}
}
}
